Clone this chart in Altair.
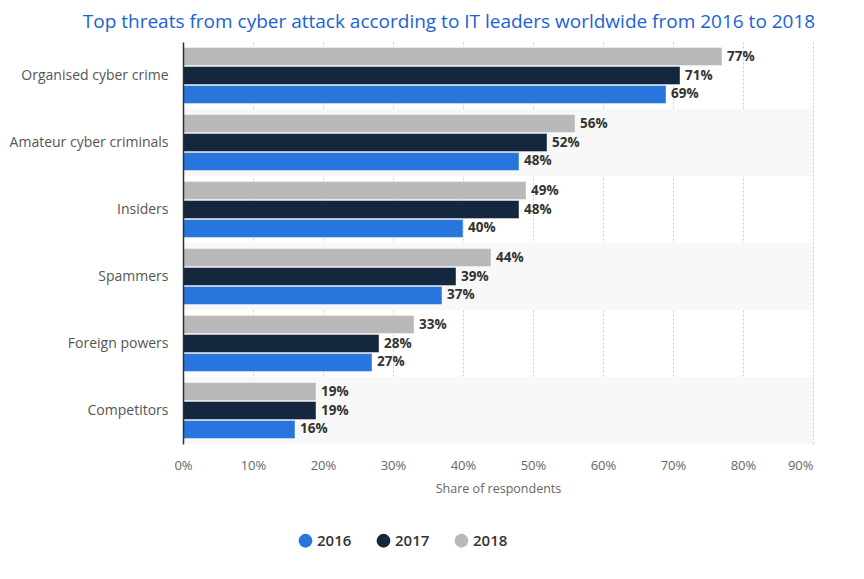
import altair as alt
import pandas as pd

categories = ["Organised cyber crime", "Amateur cyber criminals", "Insiders",
              "Spammers", "Foreign powers", "Competitors"]
years = ["2016", "2017", "2018"]
v2016 = [69, 48, 40, 37, 27, 16]
v2017 = [71, 52, 48, 39, 28, 19]
v2018 = [77, 56, 49, 44, 33, 19]
colors = ["#2876dd", "#14273f", "#b9b9b9"]

rows = []
for yr, vals in zip(years, [v2016, v2017, v2018]):
    for c, v in zip(categories, vals):
        rows.append({"category": c, "year": yr, "value": v, "label": f"{v}%"})
df = pd.DataFrame(rows)
bg_df = pd.DataFrame({"category": categories[1::2]})

FONT = "Open Sans"
W, H = 630, 402

y_enc = alt.Y("category:N", sort=categories,
              scale=alt.Scale(paddingInner=0, paddingOuter=0),
              axis=alt.Axis(title=None, labelFontSize=14, labelColor="#555555",
                            labelFont=FONT, ticks=False, labelPadding=15,
                            domain=True, domainColor="#333333", domainWidth=1.5,
                            grid=False))
yoff = alt.YOffset("year:N", sort=["2018", "2017", "2016"],
                   scale=alt.Scale(paddingInner=0.05, paddingOuter=0.29))
x_enc = alt.X("value:Q", scale=alt.Scale(domain=[0, 90], nice=False),
              axis=alt.Axis(title="Share of respondents", values=list(range(0, 100, 10)),
                            labelExpr="datum.value + '%'", labelFontSize=13,
                            labelColor="#666666", labelFont=FONT, labelPadding=15,
                            labelAlign={"condition": {"test": "datum.value == 90", "value": "right"},
                                        "value": "center"},
                            titleFont=FONT, titleFontSize=12.5, titleColor="#666666",
                            titleFontWeight="normal", titlePadding=10,
                            ticks=False, domain=False, grid=True,
                            gridColor="#cccccc", gridDash=[2, 2], gridWidth=1))

bg = alt.Chart(bg_df).mark_rect(color="#f8f8f8").encode(
    y=alt.Y("category:N", sort=categories), x=alt.value(0), x2=alt.value(W))

bars = alt.Chart(df).mark_bar(stroke="white", strokeWidth=0.7, strokeOpacity=0.6).encode(
    y=y_enc, yOffset=yoff, x=x_enc,
    color=alt.Color("year:N", scale=alt.Scale(domain=years, range=colors),
                    legend=alt.Legend(title=None, orient="none", direction="horizontal",
                                      legendX=115, legendY=491, symbolType="circle",
                                      symbolSize=190, labelFontSize=15, labelFont=FONT,
                                      labelFontWeight=600, labelColor="#333333",
                                      columnPadding=24, symbolStrokeWidth=0)))

text = alt.Chart(df).mark_text(align="left", baseline="middle", dx=5, fontSize=13.5,
                               fontWeight="bold", color="#333333", font=FONT).encode(
    y=alt.Y("category:N", sort=categories), yOffset=yoff, x="value:Q", text="label:N")

chart = alt.layer(bg, bars, text).properties(
    width=W, height=H,
    autosize=alt.AutoSizeParams(type="none"),
    padding={"left": 175, "top": 34, "right": 40, "bottom": 120},
    title=alt.TitleParams("Top threats from cyber attack according to IT leaders worldwide from 2016 to 2018",
                          font=FONT, fontSize=19, fontWeight="normal", color="#1a62d6",
                          anchor="middle", dx=-49, offset=10),
).configure_view(stroke=None)

chart.save("out.html", embed_options={"renderer": "svg", "actions": False})
